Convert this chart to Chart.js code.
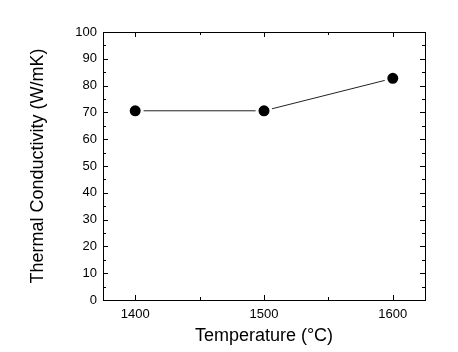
<!DOCTYPE html>
<html>
<head>
<meta charset="utf-8">
<script src="https://cdn.jsdelivr.net/npm/chart.js@4"></script>
<style>
  html, body { margin: 0; padding: 0; background: #fff; }
  #wrap { width: 458px; height: 352px; }
</style>
</head>
<body>
<div id="wrap"><canvas id="chartTC" width="458" height="352"></canvas></div>
<script>
var temperatures = [1400, 1500, 1600];
var conductivity = [70.6, 70.6, 82.7];
var xTicks = [1400, 1450, 1500, 1550, 1600];
var xLabels = [1400, 1500, 1600];
var yTicks = [0, 5, 10, 15, 20, 25, 30, 35, 40, 45, 50, 55, 60, 65, 70, 75, 80, 85, 90, 95, 100];

var points = temperatures.map(function (t, i) {
    return { x: t, y: conductivity[i] };
});

// frame + inward ticks on all four sides, like the origin-style plot
var frameTicks = {
    id: 'frameTicks',
    afterDraw: function (chart) {
        var ctx = chart.ctx;
        var a = chart.chartArea;
        var xs = chart.scales.x, ys = chart.scales.y;
        ctx.save();
        ctx.strokeStyle = '#000';
        ctx.lineWidth = 1;
        ctx.strokeRect(Math.round(a.left) + 0.5, Math.round(a.top) + 0.5,
            Math.round(a.right - a.left), Math.round(a.bottom - a.top));
        ctx.beginPath();
        xTicks.forEach(function (v) {
            var px = Math.round(xs.getPixelForValue(v)) + 0.5;
            var len = xLabels.indexOf(v) >= 0 ? 5 : 3;
            ctx.moveTo(px, a.bottom); ctx.lineTo(px, a.bottom - len);
            ctx.moveTo(px, a.top); ctx.lineTo(px, a.top + len);
        });
        yTicks.forEach(function (v) {
            var py = Math.round(ys.getPixelForValue(v)) + 0.5;
            var len = v % 10 === 0 ? 5 : 3;
            ctx.moveTo(a.left, py); ctx.lineTo(a.left + len, py);
            ctx.moveTo(a.right, py); ctx.lineTo(a.right - len, py);
        });
        ctx.stroke();
        ctx.restore();
    }
};

var ctx = document.getElementById('chartTC').getContext('2d');
var chart = new Chart(ctx, {
    type: 'scatter',
    data: {
        datasets: [{
            data: points,
            showLine: true,
            borderColor: '#222',
            borderWidth: 1,
            pointRadius: 7,
            pointHoverRadius: 7,
            pointBackgroundColor: '#000',
            pointBorderColor: '#fff',
            pointBorderWidth: 3
        }]
    },
    options: {
        responsive: false,
        animation: false,
        layout: { padding: { top: 32, right: 33, left: 0, bottom: 0 } },
        plugins: {
            legend: { display: false },
            tooltip: { enabled: false }
        },
        scales: {
            x: {
                type: 'linear',
                min: 1375,
                max: 1625,
                afterBuildTicks: function (s) {
                    s.ticks = xTicks.map(function (v) { return { value: v }; });
                },
                afterFit: function (s) { s.height = 52; },
                grid: { display: false, drawTicks: false },
                border: { display: false },
                ticks: {
                    color: '#000',
                    padding: 7,
                    maxRotation: 0,
                    autoSkip: false,
                    font: { family: 'Liberation Sans', size: 13 },
                    callback: function (v) { return xLabels.indexOf(v) >= 0 ? String(v) : ''; }
                },
                title: {
                    display: true,
                    text: 'Temperature (\u00B0C)',
                    color: '#000',
                    padding: { top: 0, bottom: 5 },
                    font: { family: 'Liberation Sans', size: 18 }
                }
            },
            y: {
                min: 0,
                max: 100,
                afterBuildTicks: function (s) {
                    s.ticks = yTicks.map(function (v) { return { value: v }; });
                },
                afterFit: function (s) { s.width = 103; },
                grid: { display: false, drawTicks: false },
                border: { display: false },
                ticks: {
                    color: '#000',
                    padding: 6,
                    autoSkip: false,
                    font: { family: 'Liberation Sans', size: 13 },
                    callback: function (v) { return v % 10 === 0 ? String(v) : ''; }
                },
                title: {
                    display: true,
                    text: 'Thermal Conductivity (W/mK)',
                    color: '#000',
                    padding: { top: 27, bottom: 0 },
                    font: { family: 'Liberation Sans', size: 18 }
                }
            }
        }
    },
    plugins: [frameTicks]
});
</script>
</body>
</html>
